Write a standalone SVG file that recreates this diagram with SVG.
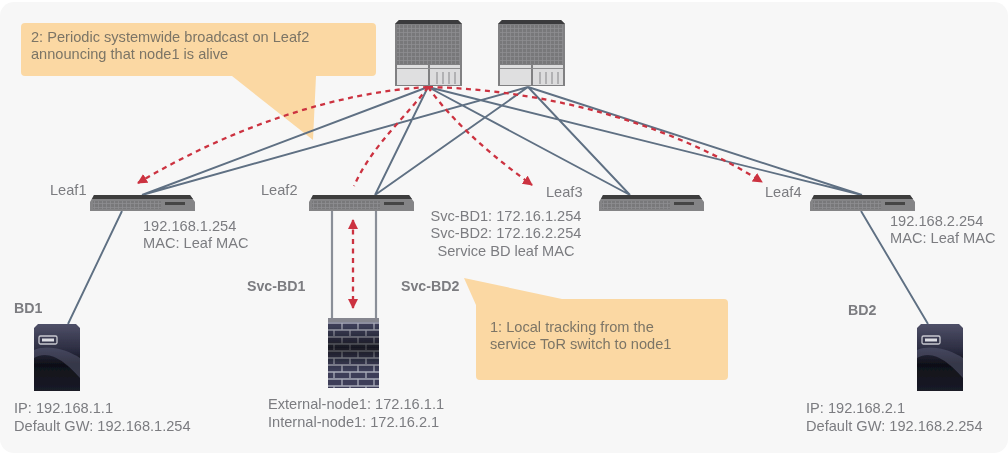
<svg xmlns="http://www.w3.org/2000/svg" width="1008" height="455" viewBox="0 0 1008 455">
<style>
text{font-family:"Liberation Sans",Arial,sans-serif;font-size:14.6px;fill:#7b7c80;filter:url(#txt)}
.b{font-weight:bold;font-size:14.200px}
.c{text-anchor:middle}
.call{fill:#fbd8a3}
.callt{fill:#7c7566}
.link{fill:none;stroke:#5f7083;stroke-width:1.900}
.svc{fill:none;stroke:#8a8f98;stroke-width:2.200}
.red{fill:none;stroke:#cc3341;stroke-width:2.300;stroke-dasharray:5 4.500}
</style>
<defs>
<marker id="ah" markerUnits="userSpaceOnUse" markerWidth="12" markerHeight="12" refX="9" refY="5" orient="auto-start-reverse"><path d="M0 0L10 5L0 10z" fill="#cc3341"/></marker>
<pattern id="grid" width="4" height="4" patternUnits="userSpaceOnUse"><rect width="4" height="4" fill="#78787a"/><path d="M0 .5H4M.5 0V4" stroke="#8e8e90" stroke-width=".8"/></pattern>
<pattern id="brick" width="32" height="14" patternUnits="userSpaceOnUse"><rect width="32" height="14" fill="#3c3e58"/><path d="M0 1H32M0 8H32M6 1V8M22 1V8M14 8V14M30 8V14" stroke="#a8aab8" stroke-width="1.300"/></pattern>
<linearGradient id="srv" x1="0" y1="0" x2="0" y2="1"><stop offset="0" stop-color="#4f5068"/><stop offset=".4" stop-color="#2a2b3f"/><stop offset=".6" stop-color="#0f1018"/><stop offset="1" stop-color="#1a1b28"/></linearGradient>
<linearGradient id="fwshade" x1="0" y1="0" x2="0" y2="1"><stop offset=".1" stop-color="#000" stop-opacity="0"/><stop offset=".42" stop-color="#000" stop-opacity=".6"/><stop offset=".75" stop-color="#000" stop-opacity="0"/></linearGradient>
<filter id="soft"><feGaussianBlur stdDeviation=".6"/></filter>
<filter id="txt"><feGaussianBlur stdDeviation=".35"/></filter>
<g id="sw"><path d="M4 0H100L105 7V16H0V7z" fill="#848486"/><path d="M4 0H100L103 4H2z" fill="#3c3c3e"/><rect x="3" y="6" width="68" height="8" fill="url(#grid)"/><rect x="75" y="7" width="20" height="3" fill="#444"/></g>
<g id="spine"><path d="M4 0H63L67 4V66H0V4z" fill="#808082"/><path d="M4 0H63L67 4H0z" fill="#3a3a3c"/><rect x="2" y="5" width="63" height="39" fill="url(#grid)"/><rect x="2" y="45" width="31" height="20" fill="#dfdfe0"/><rect x="35" y="45" width="30" height="20" fill="#dcdcdd"/><path d="M2 48.500H65" stroke="#8c8c8e" stroke-width="1.200"/><path d="M42 52V64M48 52V64M54 52V64M60 52V64" stroke="#a3a3a5" stroke-width="1.500"/></g>
<g id="server"><path d="M4 0H42L46 4V67H0V4z" fill="url(#srv)"/><rect x="5" y="12" width="18" height="8" rx="1.500" fill="none" stroke="#c8c8d0" stroke-width="1.300"/><rect x="8" y="14.500" width="12" height="3" fill="#dcdce2"/><path d="M0 34C16 24 34 40 46 54V34C34 26 14 20 0 26z" fill="#5c5d78" opacity=".5"/></g>
</defs>
<rect width="1008" height="455" fill="#ffffff"/>
<rect x="0" y="2" width="1008" height="451" rx="14" fill="#f7f7f7"/>
<g id="callout-2"><path class="call" d="M25 23H372Q376 23 376 27V72Q376 76 372 76H316L313 140L232 76H25Q21 76 21 72V27Q21 23 25 23z"/><text class="callt" x="31" y="42">2: Periodic systemwide broadcast on Leaf2</text><text class="callt" x="31" y="59">announcing that node1 is alive</text></g>
<g id="callout-1"><path class="call" d="M480 299H724Q728 299 728 303V376Q728 380 724 380H480Q476 380 476 376V305L464 278L562 299z"/><text class="callt" x="490" y="332">1: Local tracking from the</text><text class="callt" x="490" y="349">service ToR switch to node1</text></g>
<g id="connectors" filter="url(#soft)">
<path class="link" d="M428 87L142 195M528 87L142 195M428 87L375 195M528 87L375 195M428 87L630 195M528 87L630 195M428 87L862 195M528 87L862 195M122 211L68 324M861 211L928 324"/>
<path class="svc" d="M332 211V318M376 211V318"/>
<path class="red" marker-end="url(#ah)" d="M428 87C340 92 235 125 138 183"/>
<path class="red" d="M428 87C408 115 372 145 354 186"/>
<path class="red" marker-end="url(#ah)" d="M428 87C455 125 495 158 532 185"/>
<path class="red" marker-end="url(#ah)" d="M428 87C560 90 680 130 762 182"/>
<path class="red" marker-start="url(#ah)" marker-end="url(#ah)" d="M353 220V308"/>
</g>
<g id="spine1" filter="url(#soft)"><use href="#spine" x="395" y="20"/></g>
<g id="spine2" filter="url(#soft)"><use href="#spine" x="498" y="20"/></g>
<g id="leaf1"><use href="#sw" x="90" y="195" filter="url(#soft)"/><text x="50" y="195">Leaf1</text><text x="143" y="231">192.168.1.254</text><text x="143" y="248">MAC: Leaf MAC</text></g>
<g id="leaf2"><use href="#sw" x="309" y="195" filter="url(#soft)"/><text x="261" y="195">Leaf2</text><text class="c" x="506" y="221">Svc-BD1: 172.16.1.254</text><text class="c" x="506" y="238">Svc-BD2: 172.16.2.254</text><text class="c" x="506" y="256">Service BD leaf MAC</text></g>
<g id="leaf3"><use href="#sw" x="599" y="195" filter="url(#soft)"/><text x="546" y="197">Leaf3</text></g>
<g id="leaf4"><use href="#sw" x="810" y="195" filter="url(#soft)"/><text x="765" y="197">Leaf4</text><text x="890" y="226">192.168.2.254</text><text x="890" y="243">MAC: Leaf MAC</text></g>
<g id="server1"><use href="#server" x="34" y="324" filter="url(#soft)"/><text class="b" x="14" y="313">BD1</text><text x="14" y="413">IP: 192.168.1.1</text><text x="14" y="431">Default GW: 192.168.1.254</text></g>
<g id="firewall"><g filter="url(#soft)"><rect x="328" y="318" width="51" height="70" fill="url(#brick)"/><rect x="328" y="318" width="51" height="70" fill="url(#fwshade)"/><rect x="328" y="318" width="51" height="4" fill="#85868f"/></g><text class="b" x="247" y="291">Svc-BD1</text><text class="b" x="401" y="291">Svc-BD2</text><text x="268" y="409">External-node1: 172.16.1.1</text><text x="268" y="427">Internal-node1: 172.16.2.1</text></g>
<g id="server2"><use href="#server" x="917" y="324" filter="url(#soft)"/><text class="b" x="848" y="315">BD2</text><text x="806" y="413">IP: 192.168.2.1</text><text x="806" y="431">Default GW: 192.168.2.254</text></g>
</svg>
